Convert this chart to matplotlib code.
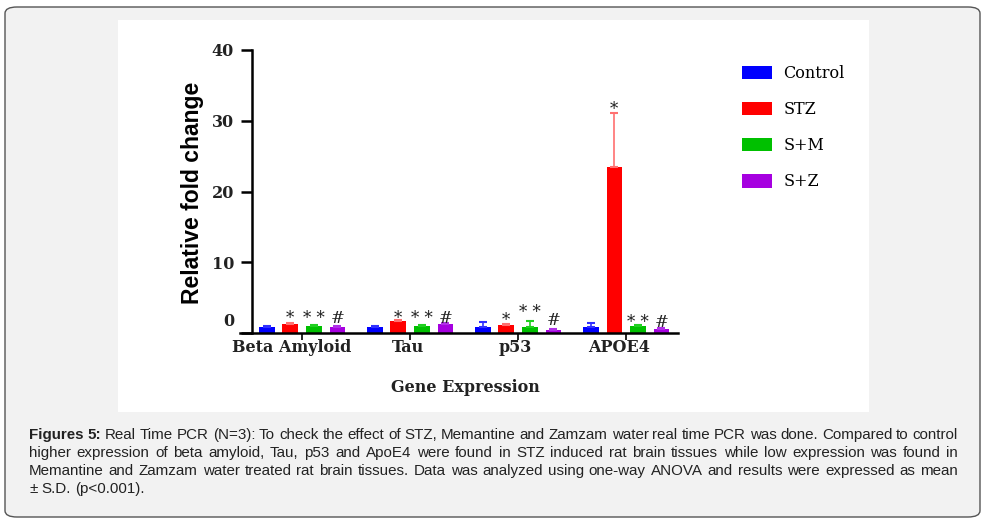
import numpy as np
import matplotlib.pyplot as plt
from matplotlib.patches import FancyBboxPatch, Rectangle
from matplotlib.transforms import ScaledTranslation

# data
genes = ["Beta Amyloid", "Tau", "p53", "APOE4"]
groups = ["Control", "STZ", "S+M", "S+Z"]
colors = ["#0000ff", "#ff0000", "#00c000", "#a600e0"]
err_colors = ["#3030ff", "#ff7070", "#20d020", "#b030e8"]

control = [0.9, 0.9, 0.85, 0.85]
stz = [1.25, 1.7, 1.1, 23.5]
s_m = [1.0, 1.05, 0.85, 1.05]
s_z = [0.9, 1.25, 0.45, 0.6]
values = [control, stz, s_m, s_z]

err_control = [0.1, 0.1, 0.7, 0.55]
err_stz = [0.1, 0.15, 0.15, 7.6]
err_sm = [0.1, 0.1, 0.9, 0.1]
err_sz = [0.1, 0.1, 0.15, 0.1]
errors = [err_control, err_stz, err_sm, err_sz]

marks = ["", "*", "* *", "#"]
mark_y = [[None, 1.4, 1.4, 1.4],
          [None, 1.4, 1.4, 1.4],
          [None, 1.1, 2.3, 1.1],
          [None, 31.0, 0.85, 0.85]]

caption = [
    "Real Time PCR (N=3): To check the effect of STZ, Memantine and Zamzam water real time PCR was done. Compared to control",
    "higher expression of beta amyloid, Tau, p53 and ApoE4 were found in STZ induced rat brain tissues while low expression was found in",
    "Memantine and Zamzam water treated rat brain tissues. Data was analyzed using one-way ANOVA and results were expressed as mean",
    "± S.D. (p<0.001).",
]

serif = "DejaVu Serif"

W, H = 1000, 526
fig = plt.figure(figsize=(W / 100, H / 100), dpi=100)
fig.patch.set_facecolor("white")

# page frame and white chart area
fig.patches.append(FancyBboxPatch((5 / W, 1 - 517 / H), 975 / W, 510 / H,
                                  boxstyle="round,pad=0,rounding_size=0.012",
                                  transform=fig.transFigure, facecolor="#f2f2f2",
                                  edgecolor="#555555", linewidth=1.0, zorder=-2))
fig.patches.append(Rectangle((118 / W, 1 - 412 / H), 751 / W, 392 / H,
                             transform=fig.transFigure, facecolor="white",
                             edgecolor="none", zorder=-1))

ax = fig.add_axes([240 / W, 1 - 333 / H, 438 / W, 283 / H])
ax.set_facecolor("none")

x = np.arange(len(genes))
step = 0.218
width = 0.145
for i in range(len(groups)):
    pos = x + (i - 1.5) * step
    ax.bar(pos, values[i], width, color=colors[i], label=groups[i],
           yerr=[np.zeros(len(genes)), errors[i]],
           error_kw=dict(ecolor=err_colors[i], elinewidth=1.2, capsize=3, capthick=1.5),
           zorder=2)
    if marks[i]:
        for j in range(len(genes)):
            ax.text(pos[j], mark_y[j][i], marks[i], ha="center", va="baseline",
                    fontsize=12, family=serif, color="#222222", zorder=3)

ax.set_xlim(-0.574, 3.48)
ax.set_ylim(0, 40)
ax.spines["top"].set_visible(False)
ax.spines["right"].set_visible(False)
ax.spines["left"].set_position(("data", -0.463))
for s in ["left", "bottom"]:
    ax.spines[s].set_linewidth(1.8)

ax.set_yticks([0, 10, 20, 30, 40])
ax.set_yticklabels(["0", "10", "20", "30", "40"], fontsize=11.5,
                   fontweight="bold", family=serif, color="#222222")
ax.tick_params(axis="y", length=8, width=1.8, pad=5)
zero = ax.get_yticklabels()[0]
zero.set_transform(zero.get_transform() + ScaledTranslation(0, 0.13, fig.dpi_scale_trans))

ax.set_xticks(x)
ax.set_xticklabels(genes, fontsize=11.5, fontweight="bold", family=serif, color="#222222")
ax.tick_params(axis="x", length=5, width=1.2, pad=-1, direction="out")
# the labels sit a little left of their ticks in the original
for lab, dx in zip(ax.get_xticklabels(), [-10, -2, -3, -7]):
    lab.set_transform(lab.get_transform() + ScaledTranslation(dx / 100, 0, fig.dpi_scale_trans))

ax.set_ylabel("Relative fold change", fontsize=16.5, fontweight="bold",
              family="Liberation Sans", va="center")
ax.yaxis.set_label_coords((193 - 240) / 438, (333 - 193) / 283)
ax.set_xlabel("Gene Expression", fontsize=11.5, fontweight="bold",
              family=serif, va="center", color="#222222")
ax.xaxis.set_label_coords((465 - 240) / 438, (333 - 387) / 283)

ax.legend(loc="upper left", bbox_to_anchor=(742 / W, 1 - 65 / H),
          bbox_transform=fig.transFigure, frameon=False,
          prop=dict(family=serif, size=11.5),
          handlelength=1.9, handleheight=0.9, labelspacing=1.2,
          handletextpad=0.7, borderpad=0, borderaxespad=0)

# justified caption
renderer = fig.canvas.get_renderer()
x0, x1 = 29 / W, 958 / W
baselines = [439, 457, 475, 493]
for k, line in enumerate(caption):
    words = line.split(" ")
    items = []
    if k == 0:
        items.append(("Figures", "bold"))
        items.append(("5:", "bold"))
    items += [(w, "normal") for w in words]
    y = 1 - baselines[k] / H
    texts = [fig.text(x0, y, w, fontsize=10.9, family="Liberation Sans",
                      fontweight=wt, va="baseline", color="#222222")
             for w, wt in items]
    widths = [t.get_window_extent(renderer).width / W for t in texts]
    if k < len(caption) - 1:
        gap = (x1 - x0 - sum(widths)) / (len(texts) - 1)
    else:
        gap = 4.2 / W
    cur = x0
    for t, wd in zip(texts, widths):
        t.set_x(cur)
        cur += wd + gap

fig.savefig("out.png", dpi=100)
